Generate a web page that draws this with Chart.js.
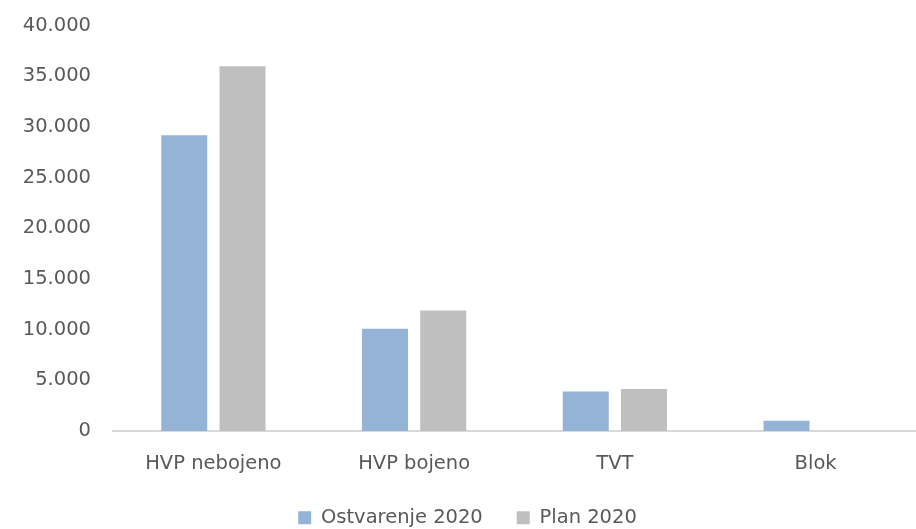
<!DOCTYPE html>
<html>
<head>
<meta charset="utf-8">
<script src="https://cdn.jsdelivr.net/npm/chart.js@4"></script>
<style>
  html, body { margin: 0; padding: 0; background: #fff; }
  #wrap { width: 916px; height: 529px; }
</style>
</head>
<body>
<div id="wrap"><canvas id="grafikon"></canvas></div>
<script>
const kategorije = ['HVP nebojeno', 'HVP bojeno', 'TVT', 'Blok'];
const ostvarenje2020 = [29200, 10100, 3900, 1000];
const plan2020 = [36000, 11900, 4150, 0];
const nazivSerija = ['Ostvarenje 2020', 'Plan 2020'];

const sivaSlova = '#595959';
const font = { family: '"DejaVu Sans", Verdana, sans-serif', size: 19.5 };

window.onload = function () {
    const ctx = document.getElementById('grafikon').getContext('2d');
    new Chart(ctx, {
        type: 'bar',
        data: {
            labels: kategorije,
            datasets: [{
                label: nazivSerija[0],
                data: ostvarenje2020,
                backgroundColor: '#95B3D7'
            }, {
                label: nazivSerija[1],
                data: plan2020,
                backgroundColor: '#BFBFBF'
            }]
        },
        options: {
            responsive: true,
            maintainAspectRatio: false,
            animation: false,
            categoryPercentage: 0.58,
            barPercentage: 0.79,
            layout: {
                padding: { top: 8, left: 19, right: 0, bottom: 0 }
            },
            scales: {
                x: {
                    grid: { display: false },
                    border: { color: '#D9D9D9', width: 2 },
                    afterFit: function (s) { s.height = 43; },
                    ticks: { color: sivaSlova, font: font, padding: 13 }
                },
                y: {
                    min: 0,
                    max: 40000,
                    grid: { display: false },
                    border: { display: false },
                    afterFit: function (s) { s.width = 94; },
                    ticks: {
                        stepSize: 5000,
                        color: sivaSlova,
                        font: font,
                        padding: 14,
                        callback: function (v) {
                            return v.toLocaleString('de-DE');
                        }
                    }
                }
            },
            plugins: {
                legend: {
                    position: 'bottom',
                    maxHeight: 55,
                    labels: {
                        color: sivaSlova,
                        font: font,
                        boxWidth: 13,
                        boxHeight: 13,
                        padding: 34
                    }
                },
                tooltip: { enabled: false }
            }
        }
    });
};
</script>
</body>
</html>
